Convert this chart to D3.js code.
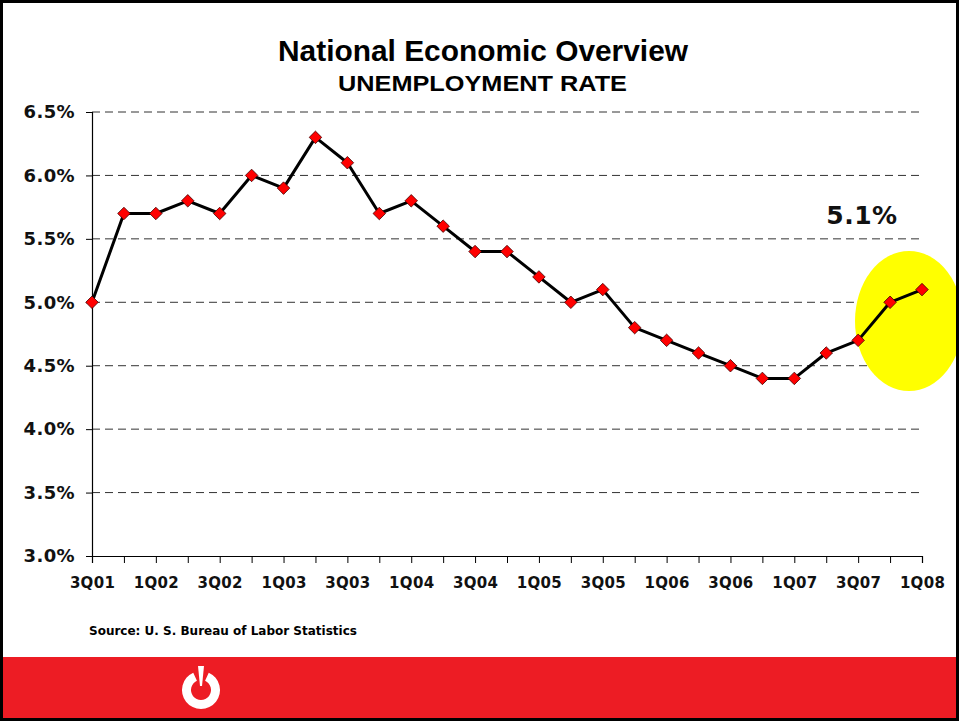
<!DOCTYPE html>
<html>
<head>
<meta charset="utf-8">
<script src="https://cdn.jsdelivr.net/npm/d3@7"></script>
<style>
  body { margin: 0; background: #fff; }
  svg { display: block; }
</style>
</head>
<body>
<div id="chart"></div>
<script>
// quarterly data, 3Q01 .. 1Q08
const quarters = ["3Q01","4Q01","1Q02","2Q02","3Q02","4Q02","1Q03","2Q03","3Q03","4Q03",
    "1Q04","2Q04","3Q04","4Q04","1Q05","2Q05","3Q05","4Q05","1Q06","2Q06","3Q06","4Q06",
    "1Q07","2Q07","3Q07","4Q07","1Q08"];
const rates = [5.0, 5.7, 5.7, 5.8, 5.7, 6.0, 5.9, 6.3, 6.1, 5.7, 5.8, 5.6, 5.4, 5.4, 5.2,
    5.0, 5.1, 4.8, 4.7, 4.6, 4.5, 4.4, 4.4, 4.6, 4.7, 5.0, 5.1];
const yTicks = [3.0, 3.5, 4.0, 4.5, 5.0, 5.5, 6.0, 6.5];
const latest = "5.1%";

const W = 959, H = 721;
const svg = d3.select("#chart").append("svg")
    .attr("width", W).attr("height", H);

svg.append("rect").attr("width", W).attr("height", H).attr("fill", "#fff");

const x = d3.scalePoint().domain(quarters).range([92, 922]);
const y = d3.scaleLinear().domain([3.0, 6.5]).range([556, 112]);

const labelFont = "'DejaVu Sans', Verdana, sans-serif";
const narrow = "'Liberation Sans', Arial, sans-serif";

// titles (condensed look via textLength)
svg.append("text").text("National Economic Overview")
    .attr("x", 278).attr("y", 61)
    .attr("textLength", 410).attr("lengthAdjust", "spacingAndGlyphs")
    .attr("font-family", narrow).attr("font-weight", "bold").attr("font-size", 30)
    .attr("fill", "#000");
svg.append("text").text("UNEMPLOYMENT RATE")
    .attr("x", 338).attr("y", 91)
    .attr("textLength", 289).attr("lengthAdjust", "spacingAndGlyphs")
    .attr("font-family", narrow).attr("font-weight", "bold").attr("font-size", 22)
    .attr("fill", "#000");

// gridlines
svg.append("g")
    .selectAll("line")
    .data(yTicks.slice(1))
    .enter()
    .append("line")
    .attr("x1", 92).attr("x2", 922)
    .attr("y1", d => y(d)).attr("y2", d => y(d))
    .attr("stroke", "#333").attr("stroke-width", 1)
    .attr("stroke-dasharray", "8,5");

// highlight ellipse
svg.append("ellipse")
    .attr("cx", 909).attr("cy", 321).attr("rx", 54).attr("ry", 70)
    .attr("fill", "#ffff00");

// y axis
const yAxis = svg.append("g")
    .attr("transform", "translate(92,0)")
    .call(d3.axisLeft(y).tickValues(yTicks).tickSize(6).tickPadding(11)
        .tickFormat(d => d.toFixed(1) + "%"));
yAxis.select(".domain").attr("stroke", "#000").attr("stroke-width", 1.2);
yAxis.selectAll(".tick line").attr("stroke", "#000");
yAxis.selectAll("text")
    .attr("font-family", labelFont).attr("font-weight", "bold").attr("font-size", 18)
    .attr("letter-spacing", 0.4)
    .attr("fill", "#111");

// x axis
const xAxis = svg.append("g")
    .attr("transform", "translate(0,556)")
    .call(d3.axisBottom(x).tickSize(7).tickPadding(14)
        .tickFormat((d, i) => i % 2 === 0 ? d : ""));
xAxis.select(".domain").attr("stroke", "#000").attr("stroke-width", 1.2);
xAxis.selectAll(".tick line").attr("stroke", "#000");
xAxis.selectAll("text")
    .attr("font-family", labelFont).attr("font-weight", "bold").attr("font-size", 15)
    .attr("letter-spacing", 0.3)
    .attr("fill", "#111");

// line
const line = d3.line()
    .x((d, i) => x(quarters[i]))
    .y(d => y(d));
svg.append("path")
    .datum(rates)
    .attr("d", line)
    .attr("fill", "none")
    .attr("stroke", "#000")
    .attr("stroke-width", 3)
    .attr("stroke-linejoin", "round");

// diamond markers
svg.append("g")
    .selectAll("path")
    .data(rates)
    .enter()
    .append("path")
    .attr("d", d3.symbol().type(d3.symbolDiamond2).size(100))
    .attr("transform", (d, i) => "translate(" + x(quarters[i]) + "," + y(d) + ")")
    .attr("fill", "#ff0000")
    .attr("stroke", "#400000")
    .attr("stroke-width", 0.8);

// latest value callout
svg.append("text").text(latest)
    .attr("x", 862).attr("y", 224).attr("text-anchor", "middle")
    .attr("font-family", labelFont).attr("font-size", 25).attr("font-weight", "bold")
    .attr("letter-spacing", 0.5)
    .attr("fill", "#111");

// source
svg.append("text").text("Source: U. S. Bureau of Labor Statistics")
    .attr("x", 89).attr("y", 635)
    .attr("font-family", labelFont).attr("font-weight", "bold").attr("font-size", 12)
    .attr("fill", "#000");

// red footer band
svg.append("rect")
    .attr("x", 0).attr("y", 657).attr("width", W).attr("height", H - 657)
    .attr("fill", "#ed1c24");

// power-style logo
const logo = svg.append("g").attr("transform", "translate(201,690)");
const arc = d3.arc().innerRadius(10).outerRadius(19)
    .startAngle(0.42).endAngle(2 * Math.PI - 0.42);
logo.append("path").attr("d", arc()).attr("fill", "#fff");
logo.append("path").attr("d", "M-3,-24 L3,-24 L1,-4 L-1,-4 Z").attr("fill", "#fff");

// frame
svg.append("rect")
    .attr("x", 1.5).attr("y", 1.5).attr("width", W - 3).attr("height", H - 3)
    .attr("fill", "none").attr("stroke", "#000").attr("stroke-width", 3);
</script>
</body>
</html>
